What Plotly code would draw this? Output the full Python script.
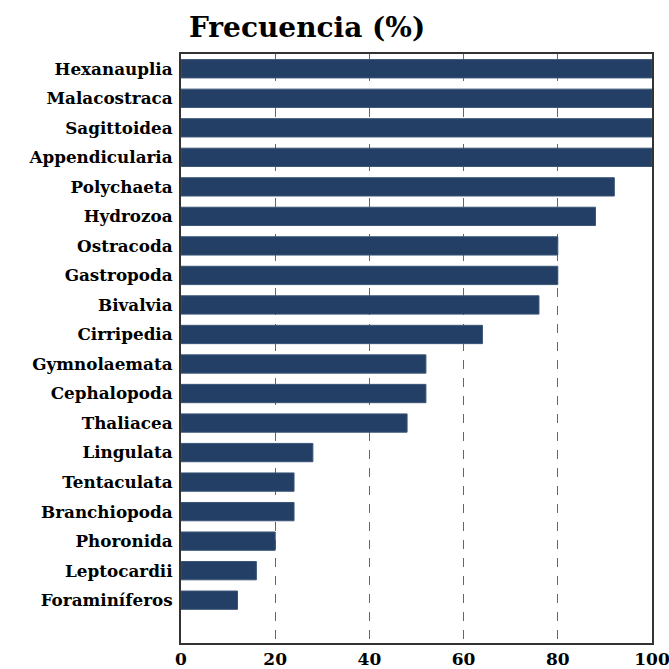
import plotly.graph_objects as go

categories = ["Hexanauplia", "Malacostraca", "Sagittoidea", "Appendicularia", "Polychaeta",
              "Hydrozoa", "Ostracoda", "Gastropoda", "Bivalvia", "Cirripedia", "Gymnolaemata",
              "Cephalopoda", "Thaliacea", "Lingulata", "Tentaculata", "Branchiopoda",
              "Phoronida", "Leptocardii", "Foraminíferos"]
values = [100, 100, 100, 100, 92, 88, 80, 80, 76, 64, 52, 52, 48, 28, 24, 24, 20, 16, 12]
tick_vals = [0, 20, 40, 60, 80, 100]

font = "DejaVu Serif"
fig = go.Figure(go.Bar(
    x=values, y=categories, orientation="h",
    marker=dict(color="#243F66", line=dict(color="#3a5577", width=1)),
    width=0.62,
))
fig.update_layout(
    width=669, height=669,
    margin=dict(l=181, r=17, t=54, b=26),
    paper_bgcolor="white", plot_bgcolor="white",
    title=dict(text="Frecuencia (%)", x=0.459, xanchor="center", y=0.96, yanchor="middle",
               font=dict(family=font, size=28, color="black", weight="bold")),
    showlegend=False,
)
fig.update_xaxes(range=[0, 100], tickvals=tick_vals, showgrid=True, gridcolor="#666666",
                 griddash="dash", gridwidth=1, zeroline=False, automargin=False,
                 showline=True, linecolor="#333333", linewidth=2, mirror=True,
                 tickfont=dict(family=font, size=17, color="black", weight="bold"), ticks="",
                 ticklabelstandoff=0, ticklabeloverflow="allow")
fig.update_yaxes(categoryorder="array", categoryarray=categories, range=[19.45, -0.5],
                 showline=True, linecolor="#333333", linewidth=2, mirror=True, automargin=False,
                 showgrid=False, ticks="", tickfont=dict(family=font, size=16.8, color="black", weight="bold"),
                 ticklabelstandoff=3)
fig.write_html("out.html", config={"displayModeBar": False},
               post_script="document.body.style.margin='0';document.body.style.overflow='hidden';")
